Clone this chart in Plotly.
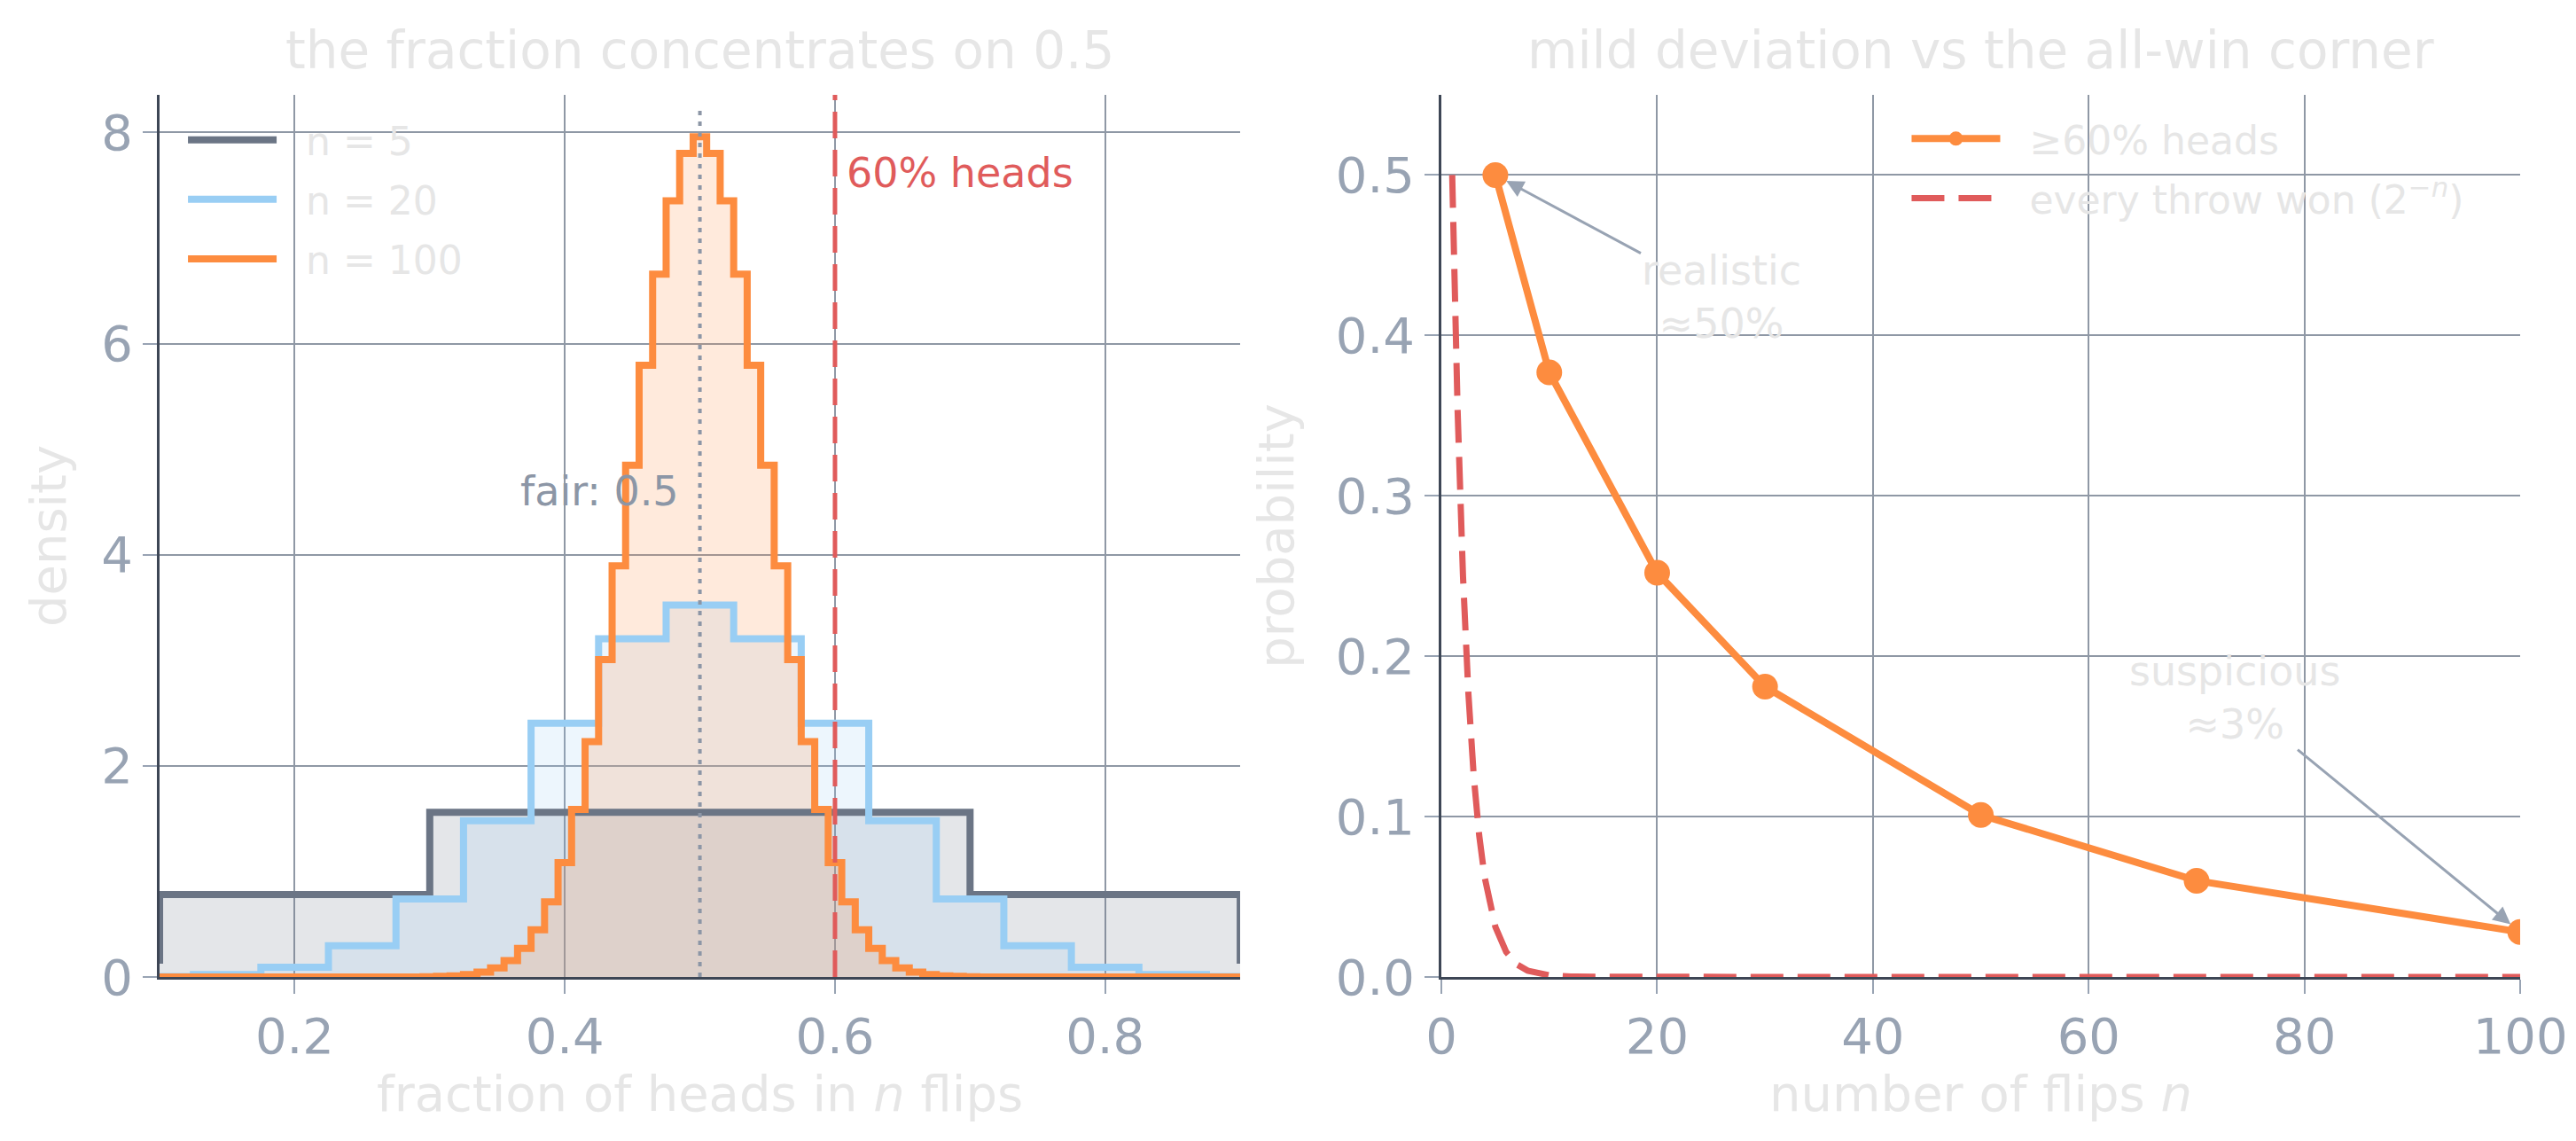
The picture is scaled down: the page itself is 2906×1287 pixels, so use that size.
import plotly.graph_objects as go

# ---- data ----
# left panel: binomial densities of the fraction of heads (pmf * n), centred on k/n
frac_5 = [0.0, 0.2, 0.4, 0.6, 0.8, 1.0]
dens_5 = [0.16, 0.78, 1.56, 1.56, 0.78, 0.16]

frac_20 = [k / 20 for k in range(21)]
dens_20 = [0.0, 0.0004, 0.0036, 0.022, 0.092, 0.296, 0.739, 1.479, 2.403, 3.204, 3.524,
           3.204, 2.403, 1.479, 0.739, 0.296, 0.092, 0.022, 0.0036, 0.0004, 0.0]

frac_100 = [k / 100 for k in range(10, 91)]
dens_100 = ([0.0] * 20 +
            [0.002, 0.005, 0.011, 0.023, 0.046, 0.086, 0.156, 0.270, 0.447, 0.711,
             1.084, 1.587, 2.229, 3.007, 3.895, 4.847, 5.796, 6.659, 7.353, 7.803,
             7.959,
             7.803, 7.353, 6.659, 5.796, 4.847, 3.895, 3.007, 2.229, 1.587, 1.084,
             0.711, 0.447, 0.270, 0.156, 0.086, 0.046, 0.023, 0.011, 0.005, 0.002] +
            [0.0] * 20)

# right panel
flips = [5, 10, 20, 30, 50, 70, 100]
p_60 = [0.500, 0.377, 0.252, 0.181, 0.101, 0.060, 0.028]

n_all = [1, 1.5, 2, 2.5, 3, 3.5, 4, 5, 6, 7, 8, 9, 10, 12, 15, 20, 30, 50, 70, 100]
p_all = [0.5, 0.3536, 0.25, 0.1768, 0.125, 0.0884, 0.0625, 0.0313, 0.0156, 0.0078,
         0.0039, 0.002, 0.001, 0.0002, 0.00003, 0.0, 0.0, 0.0, 0.0, 0.0]

GREY = "#6b7585"
BLUE = "#99cef4"
ORANGE = "#fd8c3f"
RED = "#e05b5b"
TICK = "#98a3b3"
FAINT = "#e6e6e6"
GRID = "#8f98a5"
SPINE = "#3d4655"
FONT = "DejaVu Sans"
PAD = "\u00a0\u00a0"   # a little room between legend line and label

fig = go.Figure()

series = [("n = 5", frac_5, dens_5, GREY, "rgba(107,117,133,0.18)"),
          ("n = 20", frac_20, dens_20, BLUE, "rgba(153,206,244,0.18)"),
          ("n = 100", frac_100, dens_100, ORANGE, "rgba(253,140,63,0.18)")]
# shaded areas first, step outlines on top
for name, xs, ys, col, fillcol in series:
    fig.add_trace(go.Scatter(x=xs, y=ys, mode="lines", line=dict(width=0, shape="hvh"),
                             fill="tozeroy", fillcolor=fillcol, showlegend=False,
                             hoverinfo="skip", xaxis="x", yaxis="y"))
for name, xs, ys, col, fillcol in series:
    fig.add_trace(go.Scatter(x=xs, y=ys, mode="lines", name=PAD + name, legendgroup=name,
                             line=dict(color=col, width=8, shape="hvh"),
                             xaxis="x", yaxis="y", legend="legend"))

fig.add_trace(go.Scatter(x=flips, y=p_60, mode="lines+markers", name=PAD + "≥60% heads",
                         legendgroup="p60",
                         line=dict(color=ORANGE, width=8), marker=dict(size=29, color=ORANGE),
                         xaxis="x2", yaxis="y2", legend="legend2"))
fig.add_trace(go.Scatter(x=n_all, y=p_all, mode="lines", legendgroup="pall",
                         name=PAD + "every throw won (2<sup>−<i>n</i></sup>)",
                         line=dict(color=RED, width=7, dash="37px,16px"),
                         xaxis="x2", yaxis="y2", legend="legend2"))

# reference lines on the left panel
fig.add_shape(type="line", xref="x", yref="y domain", x0=0.5, x1=0.5, y0=0, y1=0.985,
              line=dict(color="#8c96a6", width=4, dash="5px,7px"))
fig.add_shape(type="line", xref="x", yref="y domain", x0=0.6, x1=0.6, y0=0, y1=1,
              line=dict(color=RED, width=5, dash="30px,13px"))

fig.add_annotation(x=0.607, y=7.62, xref="x", yref="y", text="60% heads", showarrow=False,
                   xanchor="left", yanchor="middle", font=dict(family=FONT, size=46, color=RED))
fig.add_annotation(x=0.486, y=4.6, xref="x", yref="y", text="fair: 0.5", showarrow=False,
                   xanchor="right", yanchor="middle", font=dict(family=FONT, size=46, color="#8c96a6"))

# arrows on the right panel
fig.add_annotation(x=5, y=0.5, xref="x2", yref="y2", ax=26, ay=0.424, axref="x2", ayref="y2",
                   text="realistic<br>≈50%", showarrow=True, arrowhead=2, arrowsize=1.3,
                   arrowwidth=3, arrowcolor=TICK, standoff=14,
                   font=dict(family=FONT, size=46, color=FAINT))
fig.add_annotation(x=100, y=0.028, xref="x2", yref="y2", ax=73.5, ay=0.174, axref="x2", ayref="y2",
                   text="suspicious<br>≈3%", showarrow=True, arrowhead=2, arrowsize=1.3,
                   arrowwidth=3, arrowcolor=TICK, standoff=14,
                   font=dict(family=FONT, size=46, color=FAINT))

# panel titles
fig.add_annotation(x=(0.0592 + 0.4787) / 2, y=0.962, xref="paper", yref="paper",
                   text="the fraction concentrates on 0.5", showarrow=False,
                   xanchor="center", yanchor="middle",
                   font=dict(family=FONT, size=58, color=FAINT))
fig.add_annotation(x=(0.5568 + 0.9756) / 2, y=0.962, xref="paper", yref="paper",
                   text="mild deviation vs the all-win corner", showarrow=False,
                   xanchor="center", yanchor="middle",
                   font=dict(family=FONT, size=58, color=FAINT))

axis_common = dict(showgrid=True, gridcolor=GRID, gridwidth=2, zeroline=False,
                   automargin=False,
                   ticks="outside", ticklen=16, tickwidth=2, tickcolor=TICK,
                   tickfont=dict(family=FONT, size=56, color=TICK),
                   showline=True, linecolor=SPINE, linewidth=3, mirror=False)

fig.update_layout(
    width=2906, height=1287,
    margin=dict(l=0, r=0, t=0, b=0, autoexpand=False),
    paper_bgcolor="white", plot_bgcolor="white",
    font=dict(family=FONT, color=FAINT),
    xaxis=dict(domain=[0.0592, 0.4787], range=[0.1, 0.9], dtick=0.2, anchor="y",
               title=dict(text="fraction of heads in <i>n</i> flips", standoff=5,
                          font=dict(family=FONT, size=56, color=FAINT)), **axis_common),
    yaxis=dict(domain=[0.1500, 0.9231], range=[0, 8.357], dtick=2, anchor="x",
               title=dict(text="density", standoff=22,
                          font=dict(family=FONT, size=56, color=FAINT)), **axis_common),
    xaxis2=dict(domain=[0.5568, 0.9756], range=[0, 100], dtick=20, anchor="y2",
                title=dict(text="number of flips <i>n</i>", standoff=5,
                           font=dict(family=FONT, size=56, color=FAINT)), **axis_common),
    yaxis2=dict(domain=[0.1500, 0.9231], range=[0, 0.55], dtick=0.1, tickformat=".1f",
                anchor="x2",
                title=dict(text="probability", standoff=30,
                           font=dict(family=FONT, size=56, color=FAINT)), **axis_common),
    legend=dict(x=0.0685, y=0.911, xanchor="left", yanchor="top", bgcolor="rgba(0,0,0,0)",
                font=dict(family=FONT, size=44, color=FAINT), itemwidth=100,
                tracegroupgap=7),
    legend2=dict(x=0.7376, y=0.912, xanchor="left", yanchor="top", bgcolor="rgba(0,0,0,0)",
                 font=dict(family=FONT, size=44, color=FAINT), itemwidth=100,
                 tracegroupgap=7),
)

fig.write_html("out.html")
